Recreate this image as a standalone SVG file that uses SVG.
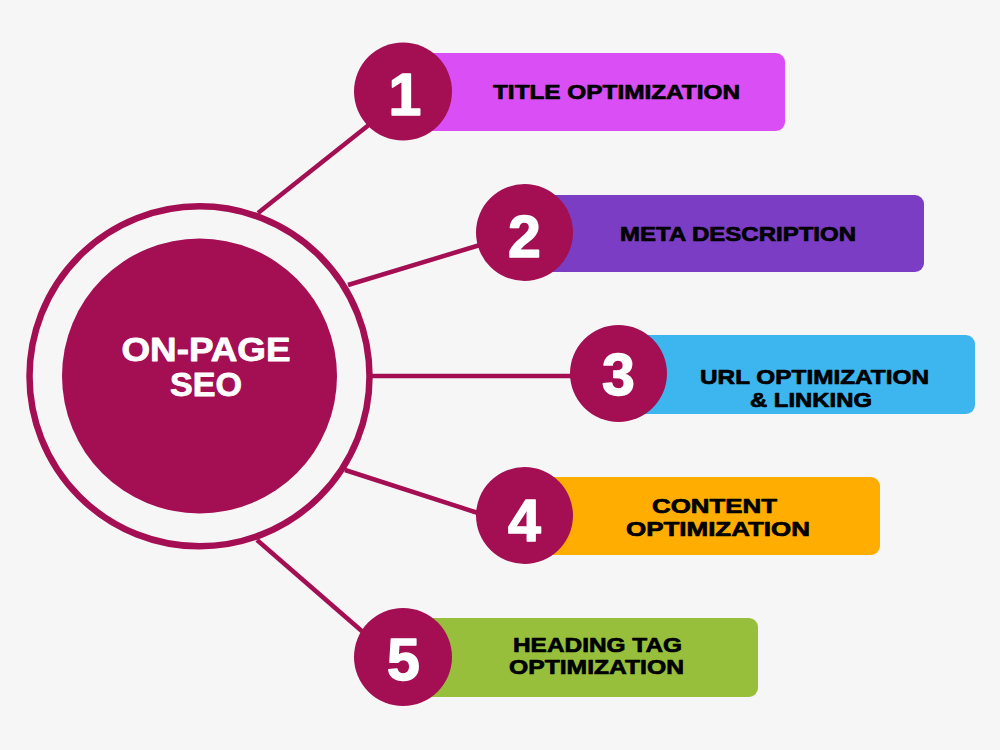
<svg xmlns="http://www.w3.org/2000/svg" width="1000" height="750" viewBox="0 0 1000 750">
  <style>
    .conn { stroke: #A30F52; stroke-width: 4.5; stroke-linecap: butt; fill: none; }
    .badge { fill: #A30F52; }
    .num { fill: #FFFFFF; stroke: #FFFFFF; stroke-width: 1.5; stroke-linejoin: round; font-family: "Liberation Sans", Arial, sans-serif; font-weight: bold; font-size: 59px; text-anchor: middle; }
    .lbl { fill: #000000; stroke: #000000; stroke-width: 0.7; stroke-linejoin: round; font-family: "Liberation Sans", Arial, sans-serif; font-weight: bold; font-size: 21px; text-anchor: middle; }
    .hub { fill: #FFFFFF; stroke: #FFFFFF; stroke-width: 0.8; stroke-linejoin: round; font-family: "Liberation Sans", Arial, sans-serif; font-weight: bold; font-size: 33px; text-anchor: middle; }
  </style>
  <rect width="1000" height="750" fill="#F7F6F7"/>

  <g id="connectors">
    <line class="conn" x1="258" y1="213" x2="370" y2="124"/>
    <line class="conn" x1="348" y1="285" x2="480" y2="245"/>
    <line class="conn" x1="372" y1="376" x2="575" y2="376"/>
    <line class="conn" x1="345" y1="470" x2="478" y2="513"/>
    <line class="conn" x1="257" y1="540" x2="364" y2="633"/>
  </g>

  <g id="hub">
    <circle cx="199.5" cy="376.3" r="170" fill="none" stroke="#A30F52" stroke-width="6.5"/>
    <circle cx="199.5" cy="376" r="137.5" fill="#A30F52"/>
    <text class="hub" x="206" y="361" textLength="169" lengthAdjust="spacingAndGlyphs">ON-PAGE</text>
    <text class="hub" x="206" y="396" textLength="72" lengthAdjust="spacingAndGlyphs">SEO</text>
  </g>

  <g id="node1">
    <rect x="410" y="53" width="375" height="78" rx="9" fill="#D94FF5"/>
    <circle class="badge" cx="403" cy="91.5" r="49"/>
    <text class="num" x="405" y="115">1</text>
    <text class="lbl" x="616.5" y="99" textLength="247" lengthAdjust="spacingAndGlyphs">TITLE OPTIMIZATION</text>
  </g>

  <g id="node2">
    <rect x="530" y="195" width="394" height="77" rx="9" fill="#7A3DC4"/>
    <circle class="badge" cx="524.5" cy="232.5" r="48.5"/>
    <text class="num" x="524.5" y="257">2</text>
    <text class="lbl" x="738" y="241" textLength="236" lengthAdjust="spacingAndGlyphs">META DESCRIPTION</text>
  </g>

  <g id="node3">
    <rect x="625" y="335" width="350" height="79" rx="9" fill="#3DB6EF"/>
    <circle class="badge" cx="618.5" cy="373.5" r="48.5"/>
    <text class="num" x="618.5" y="395">3</text>
    <text class="lbl" x="814.5" y="384" textLength="229" lengthAdjust="spacingAndGlyphs">URL OPTIMIZATION</text>
    <text class="lbl" x="811" y="407" textLength="122" lengthAdjust="spacingAndGlyphs">&amp; LINKING</text>
  </g>

  <g id="node4">
    <rect x="530" y="477" width="350" height="78" rx="9" fill="#FFAD00"/>
    <circle class="badge" cx="524.5" cy="515.5" r="48.5"/>
    <text class="num" x="524.5" y="541">4</text>
    <text class="lbl" x="714.5" y="513" textLength="125" lengthAdjust="spacingAndGlyphs">CONTENT</text>
    <text class="lbl" x="718" y="536" textLength="184" lengthAdjust="spacingAndGlyphs">OPTIMIZATION</text>
  </g>

  <g id="node5">
    <rect x="410" y="618" width="348" height="79" rx="9" fill="#97BF3B"/>
    <circle class="badge" cx="403" cy="657" r="49"/>
    <text class="num" x="403.5" y="680">5</text>
    <text class="lbl" x="597.5" y="652" textLength="169" lengthAdjust="spacingAndGlyphs">HEADING TAG</text>
    <text class="lbl" x="596.5" y="674" textLength="175" lengthAdjust="spacingAndGlyphs">OPTIMIZATION</text>
  </g>
</svg>
